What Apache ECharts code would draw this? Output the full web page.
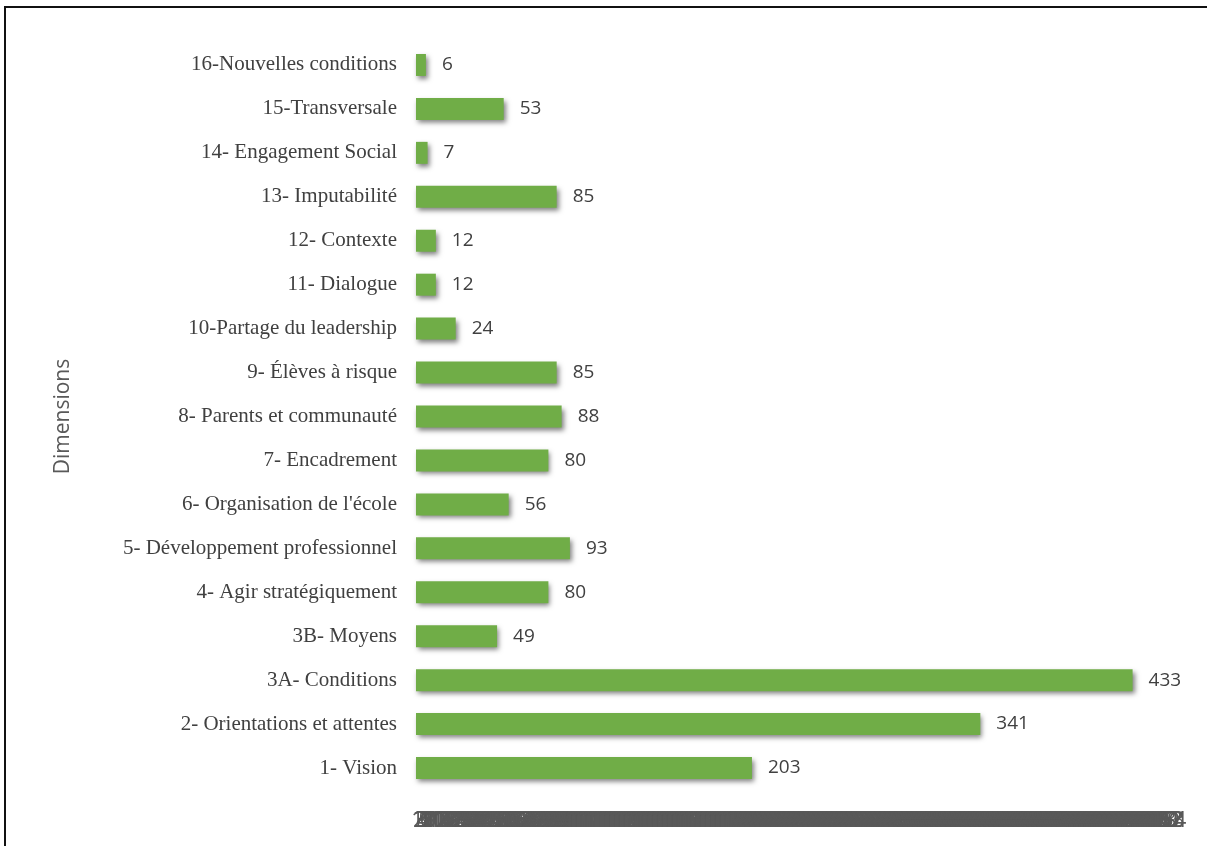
<!DOCTYPE html>
<html>
<head>
<meta charset="utf-8">
<script src="https://cdn.jsdelivr.net/npm/echarts@6/dist/echarts.min.js"></script>
<style>
  html, body { margin: 0; padding: 0; background: #fff; }
  #frame { position: absolute; left: 4px; top: 6px; width: 1220px; height: 860px;
           border-left: 2px solid #111; border-top: 2px solid #111; }
  #chart { position: absolute; left: 0; top: 0; width: 1207px; height: 846px; }
</style>
</head>
<body>
<div id="frame"></div>
<div id="chart"></div>
<script>
// Dimensions, listed bottom to top as drawn on the category axis
const categories = [
  "1- Vision",
  "2- Orientations et attentes",
  "3A- Conditions",
  "3B- Moyens",
  "4- Agir stratégiquement",
  "5- Développement professionnel",
  "6- Organisation de l'école",
  "7- Encadrement",
  "8- Parents et communauté",
  "9- Élèves à risque",
  "10-Partage du leadership",
  "11- Dialogue",
  "12- Contexte",
  "13- Imputabilité",
  "14- Engagement Social",
  "15-Transversale",
  "16-Nouvelles conditions"
];
const counts = [203, 341, 433, 49, 80, 93, 56, 80, 88, 85, 24, 12, 12, 85, 7, 53, 6];

// value axis range and label step
const axisMin = 0;
const axisMax = 455;
const axisStep = 1;

const chart = echarts.init(document.getElementById('chart'), null, { renderer: 'canvas' });
chart.setOption({
  animation: false,
  backgroundColor: 'transparent',
  grid: { left: 416, right: 38, top: 43, bottom: 56, containLabel: false },
  xAxis: {
    type: 'value',
    min: axisMin,
    max: axisMax,
    interval: axisStep,
    splitLine: { show: false },
    axisLine: { show: false },
    axisTick: { show: false },
    axisLabel: {
      show: true,
      color: '#595959',
      fontFamily: 'Open Sans',
      fontSize: 22,
      margin: 20,
      hideOverlap: false
    }
  },
  yAxis: {
    type: 'category',
    data: categories,
    name: 'Dimensions',
    nameLocation: 'middle',
    nameGap: 342,
    nameRotate: 90,
    nameTextStyle: { color: '#595959', fontFamily: 'Open Sans', fontSize: 21 },
    axisLine: { show: false },
    axisTick: { show: false },
    axisLabel: {
      color: '#404040',
      fontFamily: 'Liberation Serif',
      fontSize: 21,
      margin: 19
    }
  },
  series: [{
    type: 'bar',
    data: counts,
    barWidth: 22,
    itemStyle: {
      color: '#70AD47',
      shadowColor: 'rgba(0,0,0,0.5)',
      shadowBlur: 5,
      shadowOffsetX: 2,
      shadowOffsetY: 3
    },
    label: {
      show: true,
      position: 'right',
      distance: 16,
      color: '#404040',
      fontFamily: 'Open Sans',
      fontSize: 19
    }
  }]
});
</script>
</body>
</html>
